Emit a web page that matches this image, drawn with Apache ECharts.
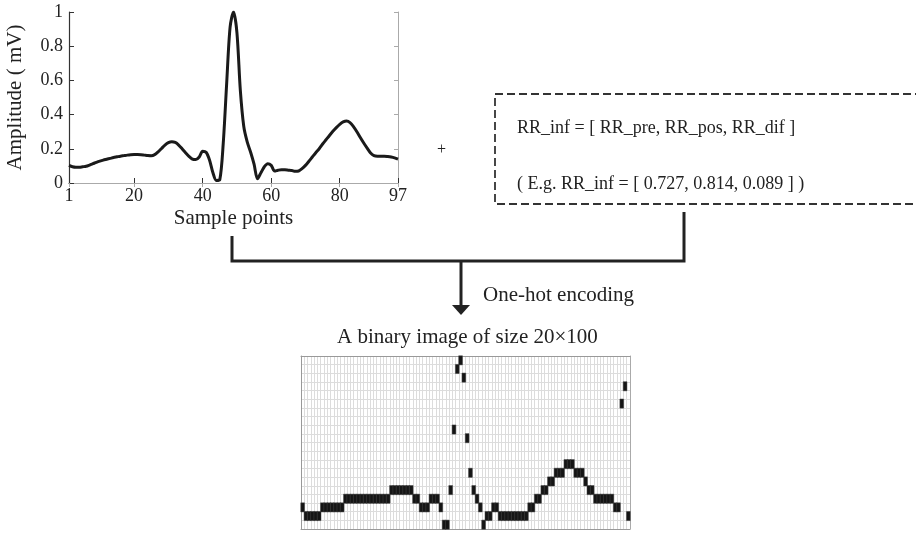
<!DOCTYPE html>
<html>
<head>
<meta charset="utf-8">
<style>
  html, body { margin: 0; padding: 0; background: #fff; }
  #main { width: 916px; height: 533px; }
</style>
<script src="https://cdn.jsdelivr.net/npm/echarts@6/dist/echarts.min.js"></script>
</head>
<body>
<div id="main"></div>
<script>
// ECG beat, samples 1..97 (mV)
var ecgValues = [
  0.103, 0.095, 0.092, 0.092, 0.095, 0.098, 0.105, 0.113, 0.121, 0.128,
  0.134, 0.139, 0.144, 0.149, 0.153, 0.157, 0.160, 0.163, 0.165, 0.166,
  0.166, 0.165, 0.163, 0.161, 0.160, 0.166, 0.182, 0.202, 0.222, 0.236,
  0.241, 0.237, 0.222, 0.200, 0.177, 0.156, 0.140, 0.137, 0.152, 0.186,
  0.180, 0.135, 0.060, 0.015, 0.020, 0.230, 0.580, 0.910, 1.000, 0.880,
  0.540, 0.330, 0.240, 0.180, 0.110, 0.025, 0.060, 0.095, 0.113, 0.103,
  0.070, 0.075, 0.078, 0.077, 0.075, 0.073, 0.068, 0.070, 0.084, 0.103,
  0.127, 0.152, 0.177, 0.200, 0.228, 0.253, 0.278, 0.302, 0.324, 0.343,
  0.357, 0.362, 0.353, 0.330, 0.300, 0.266, 0.234, 0.204, 0.176, 0.160,
  0.157, 0.157, 0.157, 0.155, 0.152, 0.147, 0.140
];
var ecgXTicks = [1, 20, 40, 60, 80, 97];
var ecgYTicks = [0, 0.2, 0.4, 0.6, 0.8, 1];

// one-hot image: black row index for each of the 100 columns
var oneHotRows = [
  2, 1, 1, 1, 1, 1, 2, 2, 2, 2,
  2, 2, 2, 3, 3, 3, 3, 3, 3, 3,
  3, 3, 3, 3, 3, 3, 3, 4, 4, 4,
  4, 4, 4, 4, 3, 3, 2, 2, 2, 3,
  3, 3, 2, 0, 0, 4, 11, 18, 19, 17,
  10, 6, 4, 3, 2, 0, 1, 1, 2, 2,
  1, 1, 1, 1, 1, 1, 1, 1, 1, 2,
  2, 3, 3, 4, 4, 5, 5, 6, 6, 6,
  7, 7, 7, 6, 6, 6, 5, 4, 4, 3,
  3, 3, 3, 3, 3, 2, 2, 14, 16, 1
];
var binCols = [];
for (var i = 0; i < 100; i++) binCols.push(i);
var binRows = [];
for (var j = 0; j < 20; j++) binRows.push(j);

var ecgData = ecgValues.map(function (v, k) { return [k + 1, v]; });
var binData = oneHotRows.map(function (r, c) { return [c, r, 1]; });

var FONT = "'Liberation Serif', 'DejaVu Serif', serif";
var INK = '#222';

var chart = echarts.init(document.getElementById('main'));

var option = {
  animation: false,
  backgroundColor: '#fff',
  grid: [
    { left: 69, top: 12, width: 329, height: 171 },
    { left: 301, top: 356, width: 329, height: 173 }
  ],
  xAxis: [
    {
      gridIndex: 0, type: 'value', min: 1, max: 97,
      name: 'Sample points', nameLocation: 'middle', nameGap: 25,
      nameTextStyle: { fontFamily: FONT, fontSize: 21, color: INK },
      axisLine: { lineStyle: { color: '#333', width: 1.2 } },
      axisTick: { inside: true, length: 5, customValues: ecgXTicks, lineStyle: { color: '#333' } },
      axisLabel: { customValues: ecgXTicks, fontFamily: FONT, fontSize: 18, color: INK, margin: 4 },
      splitLine: { show: false }
    },
    {
      gridIndex: 0, type: 'value', min: 1, max: 97, position: 'top',
      axisLine: { lineStyle: { color: '#aaa', width: 1 } },
      axisTick: { inside: true, length: 4, customValues: ecgXTicks, lineStyle: { color: '#aaa' } },
      axisLabel: { show: false },
      splitLine: { show: false }
    },
    {
      gridIndex: 1, type: 'category', data: binCols,
      axisLine: { lineStyle: { color: '#999', width: 1 } },
      axisTick: { inside: true, length: 4, interval: 0, lineStyle: { color: '#888' } },
      axisLabel: { show: false },
      splitLine: { show: true, interval: 0, lineStyle: { color: '#dcdcdc', width: 1 } }
    },
    {
      gridIndex: 1, type: 'category', data: binCols, position: 'top',
      axisLine: { lineStyle: { color: '#999', width: 1 } },
      axisTick: { inside: true, length: 4, interval: 0, lineStyle: { color: '#888' } },
      axisLabel: { show: false }
    }
  ],
  yAxis: [
    {
      gridIndex: 0, type: 'value', min: 0, max: 1,
      name: 'Amplitude ( mV)', nameLocation: 'middle', nameGap: 43, nameRotate: 90,
      nameTextStyle: { fontFamily: FONT, fontSize: 21, color: INK },
      axisLine: { show: true, lineStyle: { color: '#333', width: 1.2 } },
      axisTick: { show: true, inside: true, length: 5, customValues: ecgYTicks, lineStyle: { color: '#333' } },
      axisLabel: { customValues: ecgYTicks, fontFamily: FONT, fontSize: 18, color: INK, margin: 6 },
      splitLine: { show: false }
    },
    {
      gridIndex: 0, type: 'value', min: 0, max: 1, position: 'right',
      axisLine: { show: true, lineStyle: { color: '#aaa', width: 1 } },
      axisTick: { show: true, inside: true, length: 4, customValues: ecgYTicks, lineStyle: { color: '#aaa' } },
      axisLabel: { show: false },
      splitLine: { show: false }
    },
    {
      gridIndex: 1, type: 'category', data: binRows,
      axisLine: { lineStyle: { color: '#999', width: 1 } },
      axisTick: { inside: true, length: 3, interval: 0, lineStyle: { color: '#888' } },
      axisLabel: { show: false },
      splitLine: { show: true, interval: 0, lineStyle: { color: '#dcdcdc', width: 1 } }
    },
    {
      gridIndex: 1, type: 'category', data: binRows, position: 'right',
      axisLine: { lineStyle: { color: '#aaa', width: 1 } },
      axisTick: { show: false },
      axisLabel: { show: false }
    }
  ],
  visualMap: {
    show: false, seriesIndex: 1, min: 0, max: 1,
    inRange: { color: ['#ffffff', '#151515'] }
  },
  series: [
    {
      type: 'line', xAxisIndex: 0, yAxisIndex: 0,
      data: ecgData, smooth: 0.3, symbol: 'none',
      lineStyle: { color: '#1a1a1a', width: 3, join: 'round' }
    },
    {
      type: 'heatmap', xAxisIndex: 2, yAxisIndex: 2,
      data: binData,
      itemStyle: { borderColor: '#444', borderWidth: 0.5 }
    }
  ],
  graphic: [
    {
      type: 'rect', shape: { x: 495, y: 94, width: 460, height: 110 },
      style: { fill: 'none', stroke: '#333', lineWidth: 1.8, lineDash: [8, 4] }
    },
    {
      type: 'text', left: 517, top: 119,
      style: { text: 'RR_inf = [ RR_pre, RR_pos, RR_dif ]', font: '18px ' + FONT, fill: INK }
    },
    {
      type: 'text', left: 517, top: 175,
      style: { text: '( E.g. RR_inf = [ 0.727, 0.814, 0.089 ] )', font: '18px ' + FONT, fill: INK }
    },
    {
      type: 'text', left: 437, top: 142,
      style: { text: '+', font: '16px ' + FONT, fill: INK }
    },
    {
      type: 'polyline', shape: { points: [[232, 236], [232, 261], [684, 261], [684, 212]] },
      style: { stroke: '#222', lineWidth: 3, fill: 'none' }
    },
    {
      type: 'line', shape: { x1: 461, y1: 261, x2: 461, y2: 306 },
      style: { stroke: '#222', lineWidth: 3 }
    },
    {
      type: 'polygon', shape: { points: [[452, 305], [470, 305], [461, 315]] },
      style: { fill: '#222' }
    },
    {
      type: 'text', left: 483, top: 285,
      style: { text: 'One-hot encoding', font: '21px ' + FONT, fill: INK }
    },
    {
      type: 'text', left: 337, top: 327,
      style: { text: 'A binary image of size 20\u00d7100', font: '21px ' + FONT, fill: INK }
    }
  ]
};

chart.setOption(option);
</script>
</body>
</html>
